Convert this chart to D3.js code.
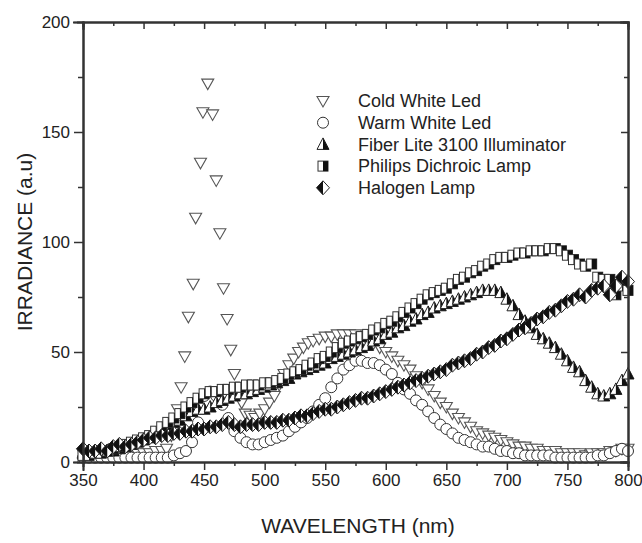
<!DOCTYPE html>
<html>
<head>
<meta charset="utf-8">
<script src="https://cdn.jsdelivr.net/npm/d3@7"></script>
<style>
  body { margin: 0; background: #fff; }
  text { font-family: "Liberation Sans", Arial, sans-serif; fill: #222; }
</style>
</head>
<body>
<div id="chart"></div>
<script>
// Chart size
const width = 642;
const height = 543;

// Shared wavelength grid (nm) for the broad-band series
const wavelengths = d3.range(350, 801, 5);

// Series values (irradiance, a.u.)
const halogenLamp = [
  6, 5, 5, 6, 5, 7, 8, 7, 8, 9,
  10, 11, 11, 12, 12, 13, 13, 14, 14, 15,
  15, 16, 16, 17, 18, 17, 16, 17, 17, 17,
  18, 18, 18, 19, 19, 20, 21, 21, 22, 23,
  24, 24, 25, 26, 27, 28, 29, 29, 30, 31,
  32, 33, 34, 35, 36, 37, 38, 39, 40, 41,
  42, 44, 45, 46, 47, 49, 50, 52, 53, 55,
  56, 58, 60, 61, 63, 65, 66, 68, 69, 71,
  73, 74, 76, 75, 78, 79, 80, 76, 80, 84,
  82
];

const fiberLite = [
  4, 4, 4, 5, 5, 5, 6, 7, 8, 9,
  10, 11, 13, 14, 16, 18, 19, 21, 23, 24,
  24, 25, 27, 28, 29, 30, 31, 31, 32, 33,
  34, 35, 36, 37, 38, 40, 41, 42, 43, 44,
  45, 47, 48, 49, 50, 51, 52, 53, 55, 56,
  58, 59, 61, 62, 64, 65, 67, 68, 70, 71,
  72, 73, 74, 75, 76, 77, 78, 78, 78, 77,
  74, 71, 67, 64, 61, 58, 56, 54, 52, 49,
  46, 43, 41, 37, 34, 31, 30, 31, 33, 37,
  40
];

const philipsDichroic = [
  3, 3, 4, 4, 5, 6, 7, 8, 9, 10,
  11, 12, 14, 16, 18, 20, 22, 25, 27, 29,
  31, 32, 32, 33, 33, 34, 34, 35, 35, 35,
  36, 36, 37, 38, 40, 41, 42, 44, 45, 47,
  48, 50, 52, 54, 55, 56, 57, 58, 60, 61,
  63, 64, 66, 68, 70, 72, 74, 76, 77, 78,
  79, 81, 83, 84, 86, 87, 89, 90, 92, 93,
  93, 94, 95, 95, 96, 96, 96, 97, 97, 96,
  94, 92, 90, 89, 90, 84, 83, 83, 76, 80,
  78
];

const warmWhiteLed = [
  2, 2, 2, 2, 2, 2, 2, 2, 2, 2,
  2, 2, 2, 2, 2, 3, 4, 5, 9, 18,
  30, 32, 30, 26, 20, 14, 11, 9, 8, 8,
  9, 10, 11, 12, 14, 16, 18, 20, 23, 26,
  29, 34, 38, 42, 44, 46, 46, 45, 45, 44,
  42, 40, 36, 33, 31, 28, 26, 23, 20, 17,
  15, 13, 11, 10, 9, 8, 7, 7, 6, 5,
  5, 4, 4, 3, 3, 3, 3, 3, 2, 2,
  2, 2, 2, 2, 2, 3, 3, 4, 5, 6,
  5
];

// Cold white LED has its own, denser sampling around the blue peak
const coldWhiteWave = [
  350, 355, 360, 365, 370, 375, 380, 385, 390, 395, 400, 405, 410, 415, 419,
  423, 428, 431, 434, 437, 441, 443, 447, 449, 453,
  457, 460, 463, 466, 469, 472, 475, 478, 481, 484,
  488, 492, 496, 500, 504, 508, 512, 516, 520, 524,
  528, 532, 536, 540,
  545, 550, 555, 560, 565, 570, 575, 580, 585, 590, 595,
  600, 605, 610, 615, 620, 625, 630, 635, 640, 645,
  650, 655, 660, 665, 670, 675, 680, 685, 690, 695,
  700, 705, 710, 715, 720, 725, 730, 735, 740, 745,
  750, 755, 760, 765, 770, 775, 780, 785, 790, 795, 800
];
const coldWhiteLed = [
  4, 4, 3, 4, 3, 3, 3, 3, 3, 4, 4, 4, 5, 5, 6,
  12, 24, 34, 48, 66, 81, 111, 136, 159, 172,
  158, 128, 104, 79, 65, 51, 40, 33, 27, 22,
  21, 20, 22, 24, 27, 30, 35, 40, 44, 47,
  50, 52, 54, 55,
  56, 57, 57, 58, 58, 58, 58, 57, 55, 54, 52,
  50, 48, 46, 44, 42, 39, 36, 33, 30, 27,
  25, 22, 20, 18, 16, 14, 13, 12, 11, 10,
  9, 8, 7, 7, 6, 6, 5, 5, 5, 4,
  4, 4, 4, 3, 4, 4, 4, 5, 5, 6, 6
];

// Legend labels, in drawing order
const seriesNames = [
  "Cold White Led",
  "Warm White Led",
  "Fiber Lite 3100 Illuminator",
  "Philips Dichroic Lamp",
  "Halogen Lamp"
];

// Axis ticks
const xMajor = [350, 400, 450, 500, 550, 600, 650, 700, 750, 800];
const xMinor = [375, 425, 475, 525, 575, 625, 675, 725, 775];
const yMajor = [0, 50, 100, 150, 200];
const yMinor = [25, 75, 125, 175];

const svg = d3.select("#chart").append("svg")
  .attr("width", width)
  .attr("height", height)
  .style("background", "#fff");

const x = d3.scaleLinear().domain([350, 800]).range([83, 628]);
const y = d3.scaleLinear().domain([0, 200]).range([462, 22]);

// Marker shapes, drawn around (0,0)
const markers = {
  downTriangle: g => {
    g.append("path").attr("d", "M-6,-4.5L6,-4.5L0,6Z")
      .attr("fill", "#fff").attr("stroke", "#555").attr("stroke-width", 1.1);
  },
  circle: g => {
    g.append("circle").attr("r", 5.5)
      .attr("fill", "#fff").attr("stroke", "#333").attr("stroke-width", 1);
  },
  halfTriangle: g => {
    g.append("path").attr("d", "M0,-6.5L6,5L-6,5Z")
      .attr("fill", "#fff").attr("stroke", "#222").attr("stroke-width", 1);
    g.append("path").attr("d", "M0,-6.5L6,5L0,5Z").attr("fill", "#111");
  },
  halfSquare: g => {
    g.append("rect").attr("x", -5).attr("y", -5).attr("width", 10).attr("height", 10)
      .attr("fill", "#fff").attr("stroke", "#333").attr("stroke-width", 1);
    g.append("rect").attr("x", 0).attr("y", -5).attr("width", 5).attr("height", 10).attr("fill", "#111");
  },
  halfDiamond: g => {
    g.append("path").attr("d", "M0,-7L6.5,0L0,7L-6.5,0Z")
      .attr("fill", "#fff").attr("stroke", "#222").attr("stroke-width", 1);
    g.append("path").attr("d", "M0,-7L-6.5,0L0,7Z").attr("fill", "#111");
  }
};

const series = [
  { name: seriesNames[0], wave: coldWhiteWave, values: coldWhiteLed, marker: "downTriangle" },
  { name: seriesNames[1], wave: wavelengths, values: warmWhiteLed, marker: "circle" },
  { name: seriesNames[2], wave: wavelengths, values: fiberLite, marker: "halfTriangle" },
  { name: seriesNames[3], wave: wavelengths, values: philipsDichroic, marker: "halfSquare" },
  { name: seriesNames[4], wave: wavelengths, values: halogenLamp, marker: "halfDiamond" }
];

// Data points
series.forEach(s => {
  const pts = s.wave.map((w, i) => ({ w: w, v: s.values[i] }));
  svg.append("g")
    .selectAll("g")
    .data(pts)
    .enter()
    .append("g")
    .attr("transform", d => `translate(${x(d.w)},${y(d.v)})`)
    .each(function() { markers[s.marker](d3.select(this)); });
});

// Axes
function styleAxis(g) {
  g.select(".domain").attr("stroke", "#333").attr("stroke-width", 2);
  g.selectAll(".tick line").attr("stroke", "#333").attr("stroke-width", 1.5);
  g.selectAll(".tick text").attr("font-size", 17).attr("fill", "#222");
}

svg.append("g").attr("transform", "translate(0,462)")
  .call(d3.axisBottom(x).tickValues(xMajor).tickSize(8).tickPadding(4).tickFormat(d3.format("d")))
  .call(styleAxis);
svg.append("g").attr("transform", "translate(0,462)")
  .call(d3.axisBottom(x).tickValues(xMinor).tickSize(4).tickFormat(""))
  .call(styleAxis);

svg.append("g").attr("transform", "translate(83,0)")
  .call(d3.axisLeft(y).tickValues(yMajor).tickSize(9).tickPadding(4).tickFormat(d3.format("d")))
  .call(styleAxis);
svg.append("g").attr("transform", "translate(83,0)")
  .call(d3.axisLeft(y).tickValues(yMinor).tickSize(5).tickFormat(""))
  .call(styleAxis);

// Mirror axes (ticks pointing inward)
svg.append("g").attr("transform", "translate(0,22)")
  .call(d3.axisBottom(x).tickValues(xMajor).tickSize(7).tickFormat(""))
  .call(styleAxis);
svg.append("g").attr("transform", "translate(0,22)")
  .call(d3.axisBottom(x).tickValues(xMinor).tickSize(4).tickFormat(""))
  .call(styleAxis);
svg.append("g").attr("transform", "translate(628,0)")
  .call(d3.axisLeft(y).tickValues(yMajor).tickSize(7).tickFormat(""))
  .call(styleAxis);
svg.append("g").attr("transform", "translate(628,0)")
  .call(d3.axisLeft(y).tickValues(yMinor).tickSize(4).tickFormat(""))
  .call(styleAxis);

svg.selectAll(".domain").attr("stroke-linecap", "square");

// Axis titles
svg.append("text")
  .attr("x", 358)
  .attr("y", 533)
  .attr("text-anchor", "middle")
  .attr("font-size", 21)
  .text("WAVELENGTH (nm)");

svg.append("text")
  .attr("transform", "translate(32,242) rotate(-90)")
  .attr("text-anchor", "middle")
  .attr("font-size", 21)
  .text("IRRADIANCE (a.u)");

// Legend
const legend = svg.append("g");
series.forEach((s, i) => {
  const row = legend.append("g").attr("transform", `translate(323,${101 + i * 21.7})`);
  markers[s.marker](row.append("g"));
  row.append("text")
    .attr("x", 35)
    .attr("y", 0)
    .attr("dy", "0.35em")
    .attr("font-size", 18)
    .text(s.name);
});
</script>
</body>
</html>
